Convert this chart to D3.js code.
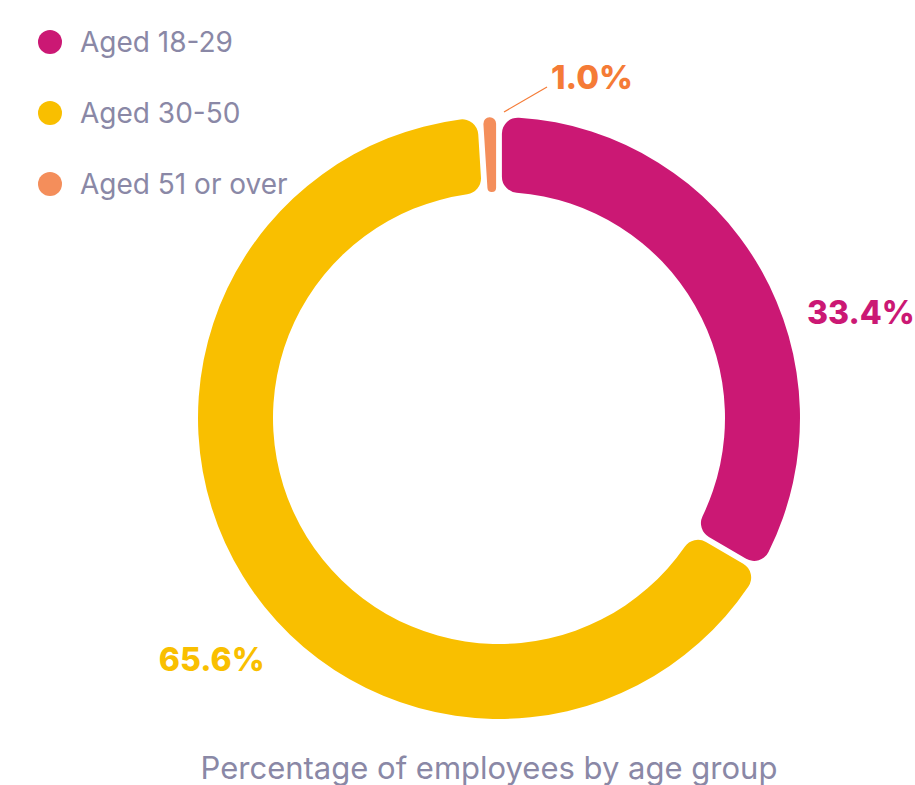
<!DOCTYPE html>
<html>
<head>
<meta charset="utf-8">
<script src="https://cdn.jsdelivr.net/npm/d3@7"></script>
<style>
  body { margin: 0; background: #fff; }
  text { font-family: "Inter", "Noto Sans", sans-serif; }
</style>
</head>
<body>
<script>
// chart data
const groups = ["Aged 18-29", "Aged 30-50", "Aged 51 or over"];
const shares = [33.4, 65.6, 1.0];
const labels = ["33.4%", "65.6%", "1.0%"];
const sliceColors = ["#CB1874", "#F9BF00", "#F48E5B"];
const labelColors = ["#CB1874", "#F9BF00", "#F57B36"];
const title = "Percentage of employees by age group";

let width = 915, height = 785;
let cx = 499, cy = 418;
let outerR = 301, innerR = 226;

const svg = d3.select("body").append("svg")
  .attr("width", width)
  .attr("height", height);

drawDonut();
drawLegend();
drawTitle();

function drawDonut() {
  const pie = d3.pie().sort(null).value(d => d)
    .startAngle(0).endAngle(2 * Math.PI);

  const arc = d3.arc()
    .innerRadius(innerR)
    .outerRadius(outerR)
    .cornerRadius(16)
    .padAngle(0.02)
    .padRadius(290);

  const g = svg.append("g").attr("transform", `translate(${cx},${cy})`);
  const arcs = pie(shares);

  g.selectAll("path")
    .data(arcs)
    .enter().append("path")
    .attr("d", arc)
    .attr("fill", (d, i) => sliceColors[i]);

  // labels: big slices sit outside the ring, the tiny one gets a leader line
  const labelArc = d3.arc().innerRadius(outerR + 45).outerRadius(outerR + 45);
  const nudges = [[8, 67], [60, 60], [0, 0]];

  arcs.forEach((d, i) => {
    const mid = (d.startAngle + d.endAngle) / 2;
    if (i === 2) {
      const p0 = d3.arc().innerRadius(outerR + 5).outerRadius(outerR + 5)
        .centroid({startAngle: d.endAngle, endAngle: d.endAngle});
      const p1 = [p0[0] + 48, p0[1] - 25];
      g.append("line")
        .attr("x1", p0[0] + 5).attr("y1", p0[1])
        .attr("x2", p1[0]).attr("y2", p1[1])
        .attr("stroke", labelColors[i])
        .attr("stroke-width", 1.2);
      g.append("text")
        .attr("x", p1[0] + 4).attr("y", p1[1] + 2)
        .attr("text-anchor", "start")
        .attr("font-size", 33).attr("font-weight", 800)
        .attr("fill", labelColors[i])
        .text(labels[i]);
      return;
    }
    const c = labelArc.centroid(d);
    const right = mid < Math.PI;
    g.append("text")
      .attr("x", c[0] + nudges[i][0])
      .attr("y", c[1] + nudges[i][1])
      .attr("dy", "0.35em")
      .attr("text-anchor", right ? "start" : "end")
      .attr("font-size", 32).attr("font-weight", 800)
      .attr("fill", labelColors[i])
      .text(labels[i]);
  });
}

function drawLegend() {
  const y = d3.scalePoint().domain(groups).range([42, 184]);
  const item = svg.append("g").selectAll("g")
    .data(groups)
    .enter().append("g")
    .attr("transform", d => `translate(0,${y(d)})`);

  item.append("circle")
    .attr("cx", 50).attr("r", 12)
    .attr("fill", (d, i) => sliceColors[i]);

  item.append("text")
    .attr("x", 80).attr("dy", "0.36em")
    .attr("font-size", 28)
    .attr("fill", "#8A88A6")
    .text(d => d);
}

function drawTitle() {
  svg.append("text")
    .attr("x", 489).attr("y", 779)
    .attr("text-anchor", "middle")
    .attr("font-size", 31)
    .attr("fill", "#8A88A6")
    .text(title);
}
</script>
</body>
</html>
